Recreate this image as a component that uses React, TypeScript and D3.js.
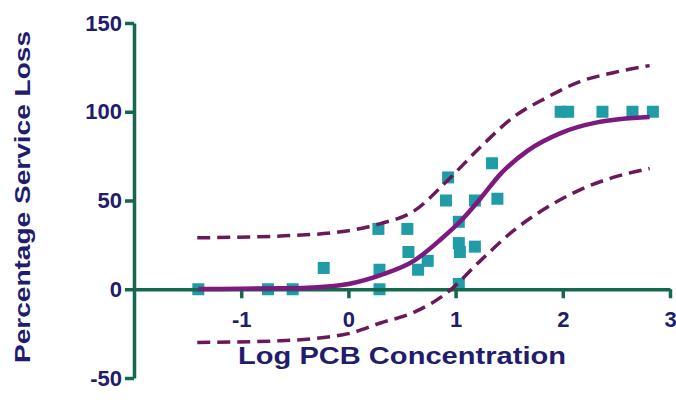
import { useEffect, useRef } from "react";
import * as d3 from "d3";

// observed data (log concentration vs % service loss)
const logConc = [
  -1.4, -0.75, -0.52, -0.23, 0.29, 0.29, 0.28, 0.55, 0.56, 0.65, 0.74, 0.91, 0.93,
  1.03, 1.03, 1.03, 1.04, 1.18, 1.18, 1.34, 1.39, 1.98, 2.05, 2.37, 2.65, 2.84,
];
const serviceLoss = [
  0, 0, 0, 12, 0, 11, 34, 34, 21, 11, 16, 50, 63, 38, 3, 26, 21, 24, 50, 71, 51,
  100, 100, 100, 100, 100,
];

// fitted curve
const fitX = [-1.4, -1, -0.63, -0.33, 0, 0.3, 0.61, 0.86, 1.04, 1.23, 1.42, 1.67, 1.98, 2.32, 2.81];
const fitY = [0.1, 0.3, 0.5, 1, 3, 8, 16, 28, 38, 51, 65, 78, 88, 94, 97];

// prediction bands
const bandX = [-1.41, -0.63, 0, 0.3, 0.61, 0.92, 1.23, 1.54, 1.85, 2.16, 2.47, 2.81];
const upperY = [29, 30, 33, 37, 44, 61, 80, 97, 108, 117, 122, 126];
const lowerY = [-30, -29, -25, -19, -13, -2, 16, 33, 46, 56, 63, 68];

const xTicks = [-1, 0, 1, 2, 3];
const yTicks = [-50, 0, 50, 100, 150];

function DoseResponseChart() {
  const ref = useRef(null);

  useEffect(() => {
    const svg = d3.select(ref.current);
    svg.selectAll("*").remove();

    const axisColor = "#13694a";
    const textColor = "#221c6c";
    const font = "'Liberation Sans', Arial, sans-serif";

    const x = d3.scaleLinear().domain([-2, 3]).range([134, 670]);
    const y = d3.scaleLinear().domain([-50, 150]).range([378, 23]);

    // points
    svg
      .append("g")
      .selectAll("rect")
      .data(logConc.map((d, i) => [d, serviceLoss[i]]))
      .enter()
      .append("rect")
      .attr("x", (d) => x(d[0]) - 6)
      .attr("y", (d) => y(d[1]) - 6)
      .attr("width", 12)
      .attr("height", 12)
      .attr("fill", "#1f9ca6");

    // axes (plain hyphen for negatives, like the original)
    const fmt = (d) => String(d);

    const yAxis = svg
      .append("g")
      .attr("transform", `translate(${x(-2)},0)`)
      .call(
        d3.axisLeft(y).tickValues(yTicks).tickFormat(fmt).tickSize(9).tickSizeOuter(0).tickPadding(3)
      );

    const xAxis = svg
      .append("g")
      .attr("transform", `translate(0,${y(0)})`)
      .call(
        d3.axisBottom(x).tickValues(xTicks).tickFormat(fmt).tickSize(9).tickSizeOuter(0).tickPadding(11)
      );

    [xAxis, yAxis].forEach((g) => {
      g.select(".domain").attr("stroke", axisColor).attr("stroke-width", 3.5);
      g.selectAll(".tick line").attr("stroke", axisColor).attr("stroke-width", 3.5);
      g.selectAll(".tick text")
        .attr("fill", textColor)
        .attr("font-family", font)
        .attr("font-weight", "bold")
        .attr("font-size", 22);
    });
    xAxis.selectAll(".tick text").attr("dy", "0.8em");

    // curves
    const line = d3
      .line()
      .x((d) => x(d[0]))
      .y((d) => y(d[1]))
      .curve(d3.curveMonotoneX);

    [upperY, lowerY].forEach((band) => {
      svg
        .append("path")
        .attr("d", line(bandX.map((d, i) => [d, band[i]])))
        .attr("fill", "none")
        .attr("stroke", "#6a1a58")
        .attr("stroke-width", 3.5)
        .attr("stroke-dasharray", "13,7");
    });

    svg
      .append("path")
      .attr("d", line(fitX.map((d, i) => [d, fitY[i]])))
      .attr("fill", "none")
      .attr("stroke", "#7c1a80")
      .attr("stroke-width", 4.5);

    // titles
    svg
      .append("text")
      .attr("x", 402)
      .attr("y", 364)
      .attr("text-anchor", "middle")
      .attr("fill", textColor)
      .attr("font-family", font)
      .attr("font-weight", "bold")
      .attr("font-size", 24)
      .attr("textLength", 328)
      .attr("lengthAdjust", "spacingAndGlyphs")
      .text("Log PCB Concentration");

    svg
      .append("text")
      .attr("transform", "translate(30,197) rotate(-90)")
      .attr("text-anchor", "middle")
      .attr("fill", textColor)
      .attr("font-family", font)
      .attr("font-weight", "bold")
      .attr("font-size", 22)
      .attr("textLength", 332)
      .attr("lengthAdjust", "spacingAndGlyphs")
      .text("Percentage Service Loss");
  }, []);

  return (
    <svg
      ref={ref}
      width={676}
      height={414}
      style={{ position: "absolute", left: 0, top: 0, background: "#fff" }}
    />
  );
}

export default function App() {
  return <DoseResponseChart />;
}
